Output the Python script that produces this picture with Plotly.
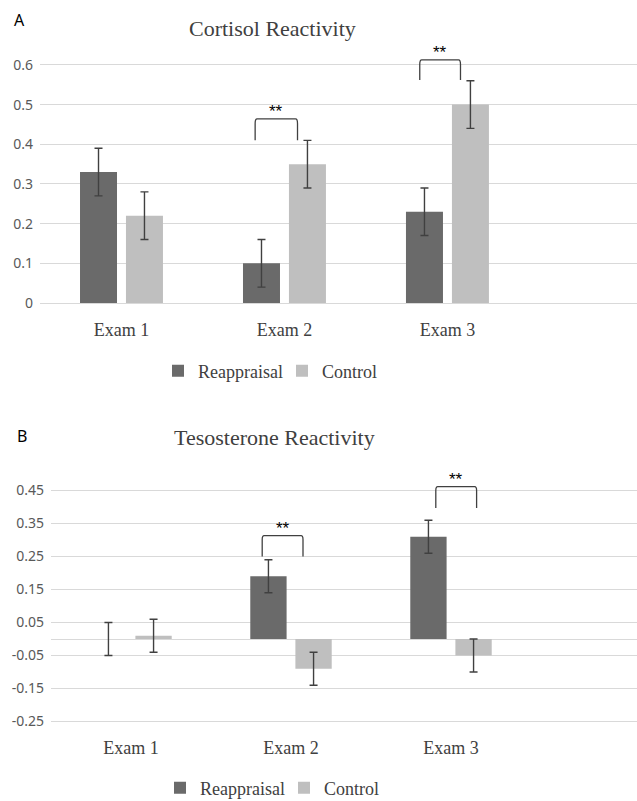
import plotly.graph_objects as go

# ---------------- data ----------------
categories = ["Exam 1", "Exam 2", "Exam 3"]
series_names = ["Reappraisal", "Control"]

cortisol_reappraisal = [0.33, 0.10, 0.23]
cortisol_reappraisal_err = [0.06, 0.06, 0.06]
cortisol_control = [0.22, 0.35, 0.50]
cortisol_control_err = [0.06, 0.06, 0.06]

testo_reappraisal = [0.00, 0.19, 0.31]
testo_reappraisal_err = [0.05, 0.05, 0.05]
testo_control = [0.01, -0.09, -0.05]
testo_control_err = [0.05, 0.05, 0.05]

cortisol_ticks = [0, 0.1, 0.2, 0.3, 0.4, 0.5, 0.6]
cortisol_ticklabels = ["0", "0.1", "0.2", "0.3", "0.4", "0.5", "0.6"]
testo_ticks = [-0.25, -0.15, -0.05, 0.05, 0.15, 0.25, 0.35, 0.45]
testo_ticklabels = ["-0.25", "-0.15", "-0.05", "0.05", "0.15", "0.25", "0.35", "0.45"]

# significance brackets: (category index, left offset, right offset, leg bottom, top)
cortisol_brackets = [(1, -0.18, 0.08, 0.41, 0.464), (2, -0.17, 0.08, 0.562, 0.613)]
testo_brackets = [(1, -0.18, 0.075, 0.25, 0.313), (2, -0.095, 0.16, 0.397, 0.4615)]
sig_label = "**"

# ---------------- style ----------------
DARK = "#6a6a6a"
LIGHT = "#bfbfbf"
ERR = "#404040"
GRID = "#d9d9d9"
SERIF = "Liberation Serif"
SANS = "Noto Sans"

xpos = list(range(len(categories)))

fig = go.Figure()


def add_bars(vals, errs, name, color, xa, ya, legend):
    fig.add_trace(go.Bar(
        x=xpos, y=vals, name=name, marker=dict(color=color, line=dict(width=0)),
        error_y=dict(type="data", array=errs, visible=True, color=ERR,
                     thickness=1.4, width=4),
        xaxis=xa, yaxis=ya, legend=legend, showlegend=True,
    ))


add_bars(cortisol_reappraisal, cortisol_reappraisal_err, series_names[0], DARK, "x", "y", "legend")
add_bars(cortisol_control, cortisol_control_err, series_names[1], LIGHT, "x", "y", "legend")
add_bars(testo_reappraisal, testo_reappraisal_err, series_names[0], DARK, "x2", "y2", "legend2")
add_bars(testo_control, testo_control_err, series_names[1], LIGHT, "x2", "y2", "legend2")

shapes = []
annotations = []


def bracket(spec, xref, yref, dy):
    ci, l, r, yb, yt = spec
    x0 = ci + l
    x1 = ci + r
    rx = 0.012
    ry = dy
    path = (f"M {x0},{yb} L {x0},{yt - ry} Q {x0},{yt} {x0 + rx},{yt} "
            f"L {x1 - rx},{yt} Q {x1},{yt} {x1},{yt - ry} L {x1},{yb}")
    shapes.append(dict(type="path", path=path, xref=xref, yref=yref,
                       line=dict(color=ERR, width=1.3)))
    annotations.append(dict(x=(x0 + x1) / 2, y=yt, xref=xref, yref=yref,
                            text=sig_label, showarrow=False,
                            yanchor="bottom", yshift=-4,
                            font=dict(family="Liberation Sans", size=17, color="#000000")))


for b in cortisol_brackets:
    bracket(b, "x", "y", 0.012)
for b in testo_brackets:
    bracket(b, "x2", "y2", 0.012)

# titles and panel letters
annotations += [
    dict(text="Cortisol Reactivity", x=272 / 637, y=1 - 29 / 801, xref="paper", yref="paper",
         showarrow=False, xanchor="center", yanchor="middle",
         font=dict(family=SERIF, size=22, color="#404040")),
    dict(text="Tesosterone Reactivity", x=274 / 637, y=1 - 437 / 801, xref="paper", yref="paper",
         showarrow=False, xanchor="center", yanchor="middle",
         font=dict(family=SERIF, size=22, color="#404040")),
    dict(text="A", x=19 / 637, y=1 - 20 / 801, xref="paper", yref="paper",
         showarrow=False, xanchor="center", yanchor="middle",
         font=dict(family=SANS, size=16, color="#000000")),
    dict(text="B", x=22 / 637, y=1 - 436 / 801, xref="paper", yref="paper",
         showarrow=False, xanchor="center", yanchor="middle",
         font=dict(family=SANS, size=16, color="#000000")),
]

xcommon = dict(tickmode="array", tickvals=xpos, ticktext=categories,
               showgrid=False, zeroline=False, showline=False, ticks="",
               tickfont=dict(family=SERIF, size=18, color="#404040"),
               fixedrange=True, automargin=False)
ycommon = dict(showgrid=True, gridcolor=GRID, gridwidth=1.2, zeroline=True,
               zerolinecolor=GRID, zerolinewidth=1.2, showline=False, ticks="",
               tickfont=dict(family=SANS, size=14, color="#595959"),
               tickmode="array", fixedrange=True, automargin=False,
               ticklabelstandoff=6)

legend_common = dict(orientation="h", xanchor="left", yanchor="middle",
                     entrywidth=79, entrywidthmode="pixels",
                     font=dict(family=SERIF, size=18, color="#404040"),
                     bgcolor="rgba(0,0,0,0)", borderwidth=0,
                     itemclick=False, itemdoubleclick=False)

fig.update_layout(
    width=637, height=801,
    margin=dict(l=0, r=0, t=0, b=0, autoexpand=False),
    paper_bgcolor="white", plot_bgcolor="white",
    barmode="group", bargap=0.436, bargroupgap=0.195,
    xaxis=dict(domain=[40 / 637, 1], range=[-0.5, 3.163], anchor="y",
               ticklabelstandoff=10, **xcommon),
    yaxis=dict(domain=[1 - 306.97 / 801, 1 - 45.1 / 801], range=[-0.01, 0.65], anchor="x",
               tickvals=cortisol_ticks, ticktext=cortisol_ticklabels, **ycommon),
    xaxis2=dict(domain=[51 / 637, 1], range=[-0.5, 3.1625], anchor="y2",
                ticklabelstandoff=10, **xcommon),
    yaxis2=dict(domain=[1 - 724.8 / 801, 1 - 474 / 801], range=[-0.26, 0.5], anchor="x2",
                tickvals=testo_ticks, ticktext=testo_ticklabels, **ycommon),
    legend=dict(x=158 / 637, y=1 - 371 / 801, **legend_common),
    legend2=dict(x=160 / 637, y=1 - 788 / 801, **legend_common),
    shapes=shapes,
    annotations=annotations,
    showlegend=True,
)

fig.write_html(
    "out.html",
    config={"displayModeBar": False},
    post_script="document.body.style.margin='0';document.body.style.overflow='hidden';",
)
